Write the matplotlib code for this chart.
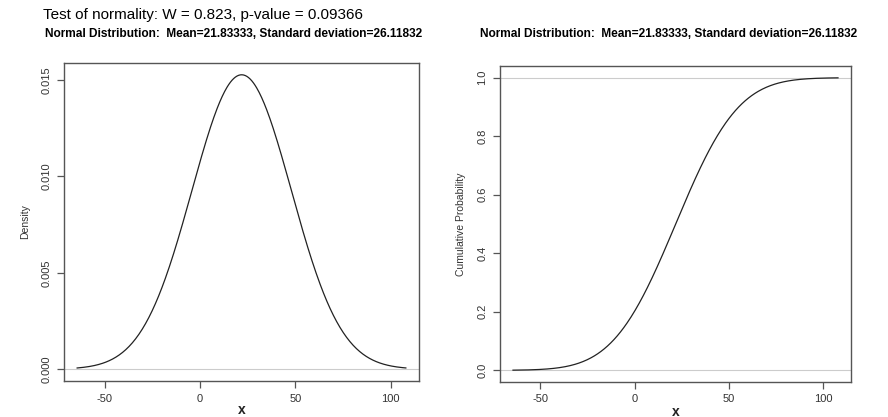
import math
import numpy as np
import matplotlib
matplotlib.use("Agg")
import matplotlib.pyplot as plt

# test result and fitted parameters shown on the chart
w_stat = 0.823
p_value = 0.09366
mean = 21.83333
sd = 26.11832
x_lo, x_hi = -64.5, 108.0

x_ticks = [-50, 0, 50, 100]
dens_ticks = [0.000, 0.005, 0.010, 0.015]
cdf_ticks = [0.0, 0.2, 0.4, 0.6, 0.8, 1.0]

x = np.linspace(x_lo, x_hi, 400)
dens = np.exp(-0.5 * ((x - mean) / sd) ** 2) / (sd * math.sqrt(2 * math.pi))
cdf = np.array([0.5 * (1 + math.erf((v - mean) / (sd * math.sqrt(2)))) for v in x])

plt.rcParams['font.family'] = ['Liberation Sans', 'DejaVu Sans']
plt.rcParams['axes.unicode_minus'] = False
W, H = 888, 417
fig = plt.figure(figsize=(W / 100, H / 100), dpi=100)

def px_axes(l, t, r, b):
    return fig.add_axes([l / W, 1 - b / H, (r - l) / W, (b - t) / H])

box = '#555555'

def style(ax, yticks, fmt):
    for s in ax.spines.values():
        s.set_color(box)
        s.set_linewidth(1.0)
    ax.set_xticks(x_ticks)
    ax.set_yticks(yticks)
    ax.set_yticklabels([fmt.format(v) for v in yticks], rotation=90, va='center')
    ax.tick_params(direction='out', length=5, width=0.9, color=box,
                   labelsize=8, labelcolor='#333333', pad=4)
    xr = x_hi - x_lo
    ax.set_xlim(x_lo - 0.04 * xr, x_hi + 0.04 * xr)
    ax.set_xlabel('x', fontsize=10, fontweight='bold', labelpad=0, color='#222222')

ax1 = px_axes(64, 63, 419, 381)
ax1.plot(x, dens, color='#222222', lw=0.9)
ax1.axhline(0, color='#cccccc', lw=0.8, zorder=0)
style(ax1, dens_ticks, '{:.3f}')
yr = dens.max()
ax1.set_ylim(-0.04 * yr, yr * 1.04)
ax1.set_ylabel('Density', fontsize=7.5, labelpad=8, color='#333333')

ax2 = px_axes(500, 66, 851, 382)
ax2.plot(x, cdf, color='#222222', lw=0.9)
ax2.axhline(0, color='#cccccc', lw=0.8, zorder=0)
ax2.axhline(1, color='#cccccc', lw=0.8, zorder=0)
style(ax2, cdf_ticks, '{:.1f}')
ax2.set_ylim(-0.04, 1.04)
ax2.set_ylabel('Cumulative Probability', fontsize=7.5, labelpad=8, color='#333333')

sub = f'Normal Distribution:  Mean={mean:.5f}, Standard deviation={sd:.5f}'
fig.text(43 / W, 1 - 15 / H, f'Test of normality: W = {w_stat}, p-value = {p_value}',
         fontsize=11, va='center', ha='left')
fig.text(45 / W, 1 - 34 / H, sub, fontsize=8.6, fontweight='bold', va='center', ha='left')
fig.text(480 / W, 1 - 34 / H, sub, fontsize=8.6, fontweight='bold', va='center', ha='left')

fig.savefig('out.png', dpi=100)
